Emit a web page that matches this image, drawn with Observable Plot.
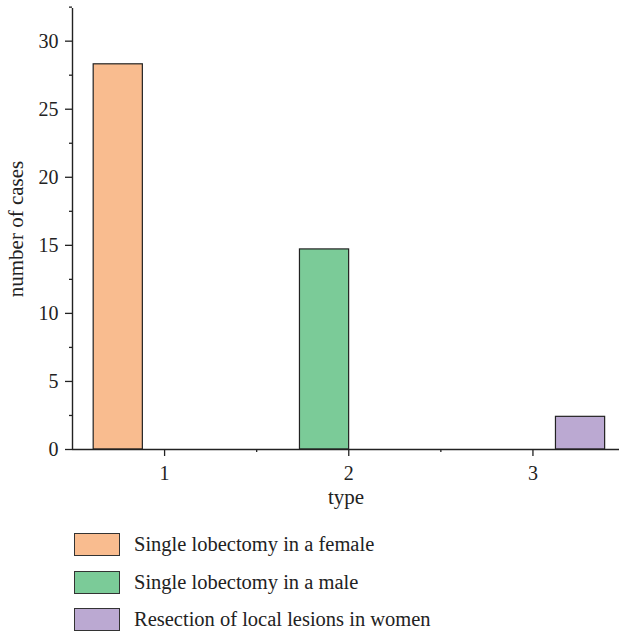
<!DOCTYPE html>
<html>
<head>
<meta charset="utf-8">
<script src="https://cdn.jsdelivr.net/npm/d3@7"></script>
<script src="https://cdn.jsdelivr.net/npm/@observablehq/plot@0.6"></script>
<style>
  body { margin: 0; background: #fff; font-family: "Liberation Serif", serif; }
  #chart svg { display: block; }
  .legend { padding-left: 74px; padding-top: 13px; }
  .row { display: flex; align-items: center; height: 23px; margin-bottom: 14.5px; }
  .sw { width: 46px; height: 23px; border: 1px solid #333; box-sizing: border-box; margin-right: 14px; }
  .lab { font-size: 20.5px; color: #222; }
</style>
</head>
<body>
<div id="chart"></div>
<div class="legend" id="legend"></div>
<script>
const types = [1, 2, 3];
const series = ["Single lobectomy in a female", "Single lobectomy in a male", "Resection of local lesions in women"];
const values = [28.3, 14.7, 2.4];
const colors = ["#F9BC8F", "#7BCB98", "#BBA9D2"];
const yMajorTicks = [0, 5, 10, 15, 20, 25, 30];
const yMinorTicks = [2.5, 7.5, 12.5, 17.5, 22.5, 27.5, 32.5];
const xMajorTicks = [1, 2, 3];
const xMinorTicks = [1.5, 2.5];

// layout constants: bar slot offsets within each group (Origin-style)
const barOffset = [-0.385, -0.265, 0.125];
const barWidth = 0.267;

const data = types.map((t, i) => ({
  type: t, series: series[i], value: values[i],
  x1: t + barOffset[i], x2: t + barOffset[i] + barWidth
}));

const font = "Liberation Serif, serif";
const chart = Plot.plot({
  width: 619,
  height: 520,
  marginLeft: 72,
  marginRight: 0,
  marginTop: 8,
  marginBottom: 71,
  style: { fontFamily: font, fontSize: "20px", color: "#222", background: "#fff" },
  x: { domain: [0.5, 3.47] },
  y: { domain: [0, 32.4] },
  color: { domain: series, range: colors },
  marks: [
    Plot.rect(data, { x1: "x1", x2: "x2", y1: 0, y2: "value", fill: "series", stroke: "#222", strokeWidth: 1.2 }),
    Plot.ruleX([0.5], { stroke: "#222", strokeWidth: 1.4 }),
    Plot.ruleY([0], { stroke: "#222", strokeWidth: 1.4 }),
    Plot.axisY(yMajorTicks, { tickSize: 7, tickPadding: 7, strokeWidth: 1.3, fontSize: 20, tickFormat: d3.format("d"), label: null }),
    Plot.axisY(yMinorTicks, { tickSize: 3, tickFormat: () => "", strokeWidth: 1.3, label: null }),
    Plot.axisX(xMajorTicks, { tickSize: 7, tickPadding: 9, strokeWidth: 1.3, fontSize: 20, tickFormat: d3.format("d"), label: null }),
    Plot.axisX(xMinorTicks, { tickSize: 3, tickFormat: () => "", strokeWidth: 1.3, label: null }),
    Plot.text(["number of cases"], { frameAnchor: "left", textAnchor: "middle", lineAnchor: "middle", dx: -56, rotate: -90, fontSize: 21, fill: "#222" }),
    Plot.text(["type"], { frameAnchor: "bottom", lineAnchor: "middle", dy: 48, fontSize: 21, fill: "#222" })
  ]
});
document.getElementById("chart").append(chart);

const legend = document.getElementById("legend");
series.forEach((s, i) => {
  const row = document.createElement("div");
  row.className = "row";
  const sw = document.createElement("div");
  sw.className = "sw";
  sw.style.background = colors[i];
  const lab = document.createElement("span");
  lab.className = "lab";
  lab.textContent = s;
  row.append(sw, lab);
  legend.append(row);
});
</script>
</body>
</html>
